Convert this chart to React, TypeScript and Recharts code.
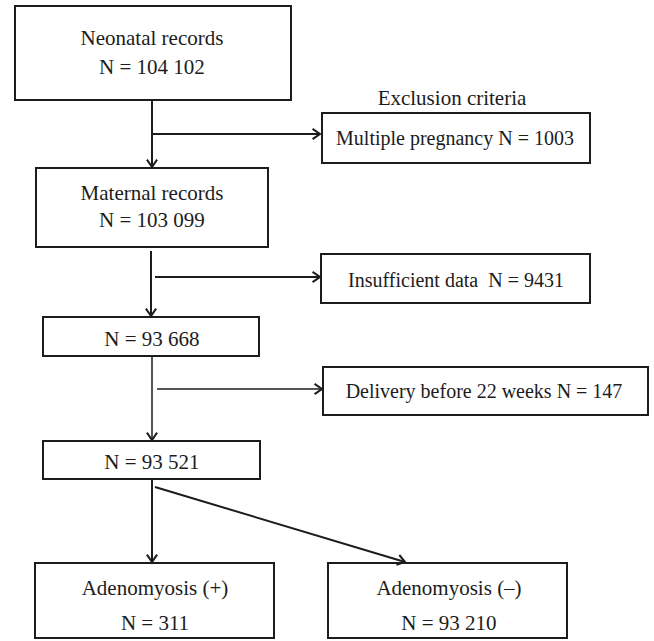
import React from "react";
import { ComposedChart, ReferenceArea, ReferenceDot, ReferenceLine, XAxis, YAxis } from "recharts";

const WIDTH = 654;
const HEIGHT = 641;
const INK = "#1c1c1c";
const FONT = "'Liberation Serif', 'Times New Roman', serif";

// flowchart boxes, in page units (x to the right, y downward)
const boxes = [
  { id: "neonatal", x1: 15, y1: 6, x2: 291, y2: 100 },
  { id: "maternal", x1: 36, y1: 168, x2: 268, y2: 247 },
  { id: "n93668", x1: 43, y1: 317, x2: 259, y2: 356 },
  { id: "n93521", x1: 43, y1: 441, x2: 260, y2: 479 },
  { id: "adenoPlus", x1: 35, y1: 563, x2: 274, y2: 638 },
  { id: "adenoMinus", x1: 328, y1: 563, x2: 567, y2: 638 },
  { id: "multiple", x1: 322, y1: 113, x2: 590, y2: 163 },
  { id: "insufficient", x1: 321, y1: 254, x2: 590, y2: 303 },
  { id: "delivery", x1: 323, y1: 367, x2: 648, y2: 415 },
];

const labels = [
  { text: "Neonatal records", x: 152, y: 38, small: false },
  { text: "N = 104 102", x: 152, y: 67, small: false },
  { text: "Maternal records", x: 152, y: 193, small: false },
  { text: "N = 103 099", x: 152, y: 220, small: false },
  { text: "N = 93 668", x: 152, y: 339, small: false },
  { text: "N = 93 521", x: 152, y: 462, small: false },
  { text: "Adenomyosis (+)", x: 155, y: 588, small: false },
  { text: "N = 311", x: 155, y: 623, small: false },
  { text: "Adenomyosis (\u2013)", x: 449, y: 588, small: false },
  { text: "N = 93 210", x: 449, y: 623, small: false },
  { text: "Exclusion criteria", x: 452, y: 98, small: false },
  { text: "Multiple pregnancy N = 1003", x: 455, y: 138, small: true },
  { text: "Insufficient data  N = 9431", x: 456, y: 280, small: true },
  { text: "Delivery before 22 weeks N = 147", x: 484, y: 391, small: true },
];

const arrows = [
  { from: [152, 100], to: [152, 167], thin: false },
  { from: [152, 134], to: [320, 134], thin: false },
  { from: [151, 251], to: [151, 316], thin: false },
  { from: [155, 277], to: [320, 277], thin: false },
  { from: [152, 356], to: [152, 440], thin: true },
  { from: [157, 389], to: [322, 389], thin: true },
  { from: [152, 479], to: [152, 562], thin: false },
  { from: [155, 487], to: [405, 562], thin: false },
];

const ArrowShape = (props: any) => {
  const { x1, y1, x2, y2, thin } = props;
  const ang = Math.atan2(y2 - y1, x2 - x1);
  const len = 9;
  const spread = 0.6;
  const ax = x2 - len * Math.cos(ang - spread);
  const ay = y2 - len * Math.sin(ang - spread);
  const bx = x2 - len * Math.cos(ang + spread);
  const by = y2 - len * Math.sin(ang + spread);
  const sw = thin ? 1.5 : 2;
  return (
    <g>
      <line x1={x1} y1={y1} x2={x2} y2={y2} stroke={INK} strokeWidth={sw} />
      <polyline
        points={`${ax},${ay} ${x2},${y2} ${bx},${by}`}
        fill="none"
        stroke={INK}
        strokeWidth={2}
        strokeLinejoin="miter"
      />
    </g>
  );
};

export default function App() {
  return (
    <div style={{ position: "absolute", left: 0, top: 0, background: "#fff" }}>
      <ComposedChart width={WIDTH} height={HEIGHT} margin={{ top: 0, right: 0, bottom: 0, left: 0 }}>
        <XAxis type="number" dataKey="x" domain={[0, WIDTH]} allowDataOverflow hide />
        <YAxis type="number" dataKey="y" domain={[0, HEIGHT]} allowDataOverflow reversed hide />
        {boxes.map((b) => (
          <ReferenceArea
            key={b.id}
            x1={b.x1}
            x2={b.x2}
            y1={b.y1}
            y2={b.y2}
            fill="#fff"
            fillOpacity={1}
            stroke={INK}
            strokeWidth={2}
            ifOverflow="visible"
          />
        ))}
        {arrows.map((a, i) => (
          <ReferenceLine
            key={`arrow-${i}`}
            segment={[
              { x: a.from[0], y: a.from[1] },
              { x: a.to[0], y: a.to[1] },
            ]}
            ifOverflow="visible"
            shape={(p: any) => <ArrowShape {...p} thin={a.thin} />}
          />
        ))}
        {labels.map((l, i) => (
          <ReferenceDot
            key={`label-${i}`}
            x={l.x}
            y={l.y}
            r={0}
            ifOverflow="visible"
            shape={(p: any) => (
              <text
                x={p.cx}
                y={p.cy}
                textAnchor="middle"
                dominantBaseline="central"
                fontFamily={FONT}
                fontSize={l.small ? 20 : 21}
                fill={INK}
                style={{ whiteSpace: "pre" }}
              >
                {l.text}
              </text>
            )}
          />
        ))}
      </ComposedChart>
    </div>
  );
}
